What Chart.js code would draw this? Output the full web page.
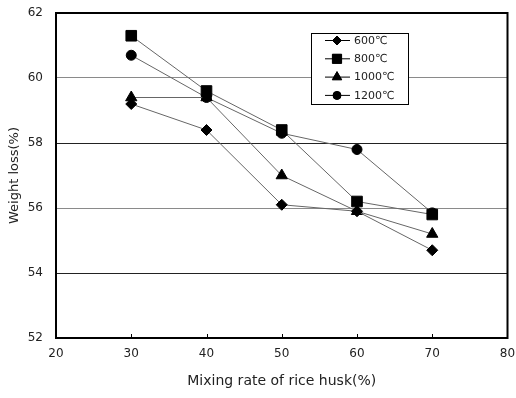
<!DOCTYPE html>
<html lang="en">
  <head>
    <meta charset="UTF-8" />
    <title>Weight loss vs mixing rate</title>
    <script src="https://cdn.jsdelivr.net/npm/chart.js@4"></script>
    <style>
      html, body { margin: 0; padding: 0; background: #fff; }
      #wrap { width: 516px; height: 398px; }
    </style>
  </head>
  <body>
    <div id="wrap"><canvas id="myChart" width="516" height="398"></canvas></div>

    <script>
      // data
      const mixRate = [30, 40, 50, 60, 70];
      const loss600 = [59.2, 58.4, 56.1, 55.9, 54.7];
      const loss800 = [61.3, 59.6, 58.4, 56.2, 55.8];
      const loss1000 = [59.4, 59.4, 57.0, 55.9, 55.2];
      const loss1200 = [60.7, 59.4, 58.3, 57.8, 55.85];
      const seriesLabels = ['600℃', '800℃', '1000℃', '1200℃'];

      const FONT = 'DejaVu Sans';

      function pts(vals) {
        return mixRate.map((x, i) => ({ x: x, y: vals[i] }));
      }

      function makeSet(label, vals, style, radius) {
        return {
          label: label,
          data: pts(vals),
          showLine: true,
          borderColor: '#666',
          borderWidth: 1,
          pointStyle: style,
          pointRadius: radius,
          pointBackgroundColor: '#000',
          pointBorderColor: '#000',
          pointBorderWidth: 1
        };
      }

      // frame, inner ticks and boxed legend
      const extras = {
        id: 'extras',
        afterDatasetsDraw(chart) {
          const ctx = chart.ctx;
          const a = chart.chartArea;
          const xs = chart.scales.x;
          ctx.save();
          ctx.strokeStyle = '#000';
          ctx.lineWidth = 1;
          [30, 40, 50, 60, 70].forEach(v => {
            const px = Math.round(xs.getPixelForValue(v)) + 0.5;
            ctx.beginPath();
            ctx.moveTo(px, a.bottom);
            ctx.lineTo(px, a.bottom - 4);
            ctx.stroke();
          });
          ctx.lineWidth = 2;
          ctx.strokeRect(a.left, a.top, a.right - a.left, a.bottom - a.top);

          // legend box
          const lx = 311, ly = 33, lw = 97, lh = 71;
          ctx.fillStyle = '#fff';
          ctx.fillRect(lx, ly, lw, lh);
          ctx.lineWidth = 1;
          ctx.strokeStyle = '#000';
          ctx.strokeRect(lx + 0.5, ly + 0.5, lw, lh);
          ctx.font = '11px "' + FONT + '"';
          ctx.textBaseline = 'middle';
          chart.data.datasets.forEach((ds, i) => {
            const y = ly + 7 + i * 18.3;
            ctx.strokeStyle = '#000';
            ctx.lineWidth = 1;
            ctx.beginPath();
            ctx.moveTo(lx + 14, y + 0.5);
            ctx.lineTo(lx + 39, y + 0.5);
            ctx.stroke();
            ctx.fillStyle = '#000';
            Chart.helpers.drawPoint(ctx, {
              pointStyle: ds.pointStyle,
              radius: ds.pointRadius - 1,
              borderWidth: 1,
              rotation: 0
            }, lx + 26, y + 0.5);
            ctx.fill();
            ctx.fillStyle = '#222';
            ctx.fillText(ds.label, lx + 43, y + 1);
          });
          ctx.restore();
        }
      };

      function gridColor(c) {
        const v = c.tick ? c.tick.value : null;
        if (v === 52 || v === 62) return 'rgba(0,0,0,0)';
        if (v === 60 || v === 56) return '#8a8a8a';
        return '#222';
      }

      const ctx = document.getElementById('myChart').getContext('2d');
      const myChart = new Chart(ctx, {
        type: 'scatter',
        data: {
          datasets: [
            makeSet(seriesLabels[0], loss600, 'rectRot', 5.5),
            makeSet(seriesLabels[1], loss800, 'rect', 7.5),
            makeSet(seriesLabels[2], loss1000, 'triangle', 6.5),
            makeSet(seriesLabels[3], loss1200, 'circle', 5)
          ]
        },
        options: {
          responsive: false,
          animation: false,
          layout: { padding: { left: 0, top: 13, right: 8, bottom: 0 } },
          plugins: {
            legend: { display: false },
            tooltip: { enabled: false }
          },
          scales: {
            x: {
              type: 'linear',
              min: 20,
              max: 80,
              afterFit: s => { s.height = 60; s.paddingLeft = 0; s.paddingRight = 0; },
              grid: { display: false, drawTicks: false },
              border: { display: false },
              ticks: {
                stepSize: 10,
                padding: 9,
                color: '#222',
                font: { family: FONT, size: 12 }
              },
              title: {
                display: true,
                text: 'Mixing rate of rice husk(%)',
                color: '#222',
                padding: { top: 0, bottom: 8 },
                font: { family: FONT, size: 14 }
              }
            },
            y: {
              min: 52,
              max: 62,
              afterFit: s => { s.width = 56; s.paddingTop = 0; s.paddingBottom = 0; },
              grid: { color: gridColor, lineWidth: 1, drawTicks: false },
              border: { display: false },
              ticks: {
                stepSize: 2,
                padding: 13,
                color: '#222',
                font: { family: FONT, size: 12 }
              },
              title: {
                display: true,
                text: 'Weight loss(%)',
                color: '#222',
                padding: { top: 7, bottom: 0 },
                font: { family: FONT, size: 13 }
              }
            }
          }
        },
        plugins: [extras]
      });
    </script>
  </body>
</html>
